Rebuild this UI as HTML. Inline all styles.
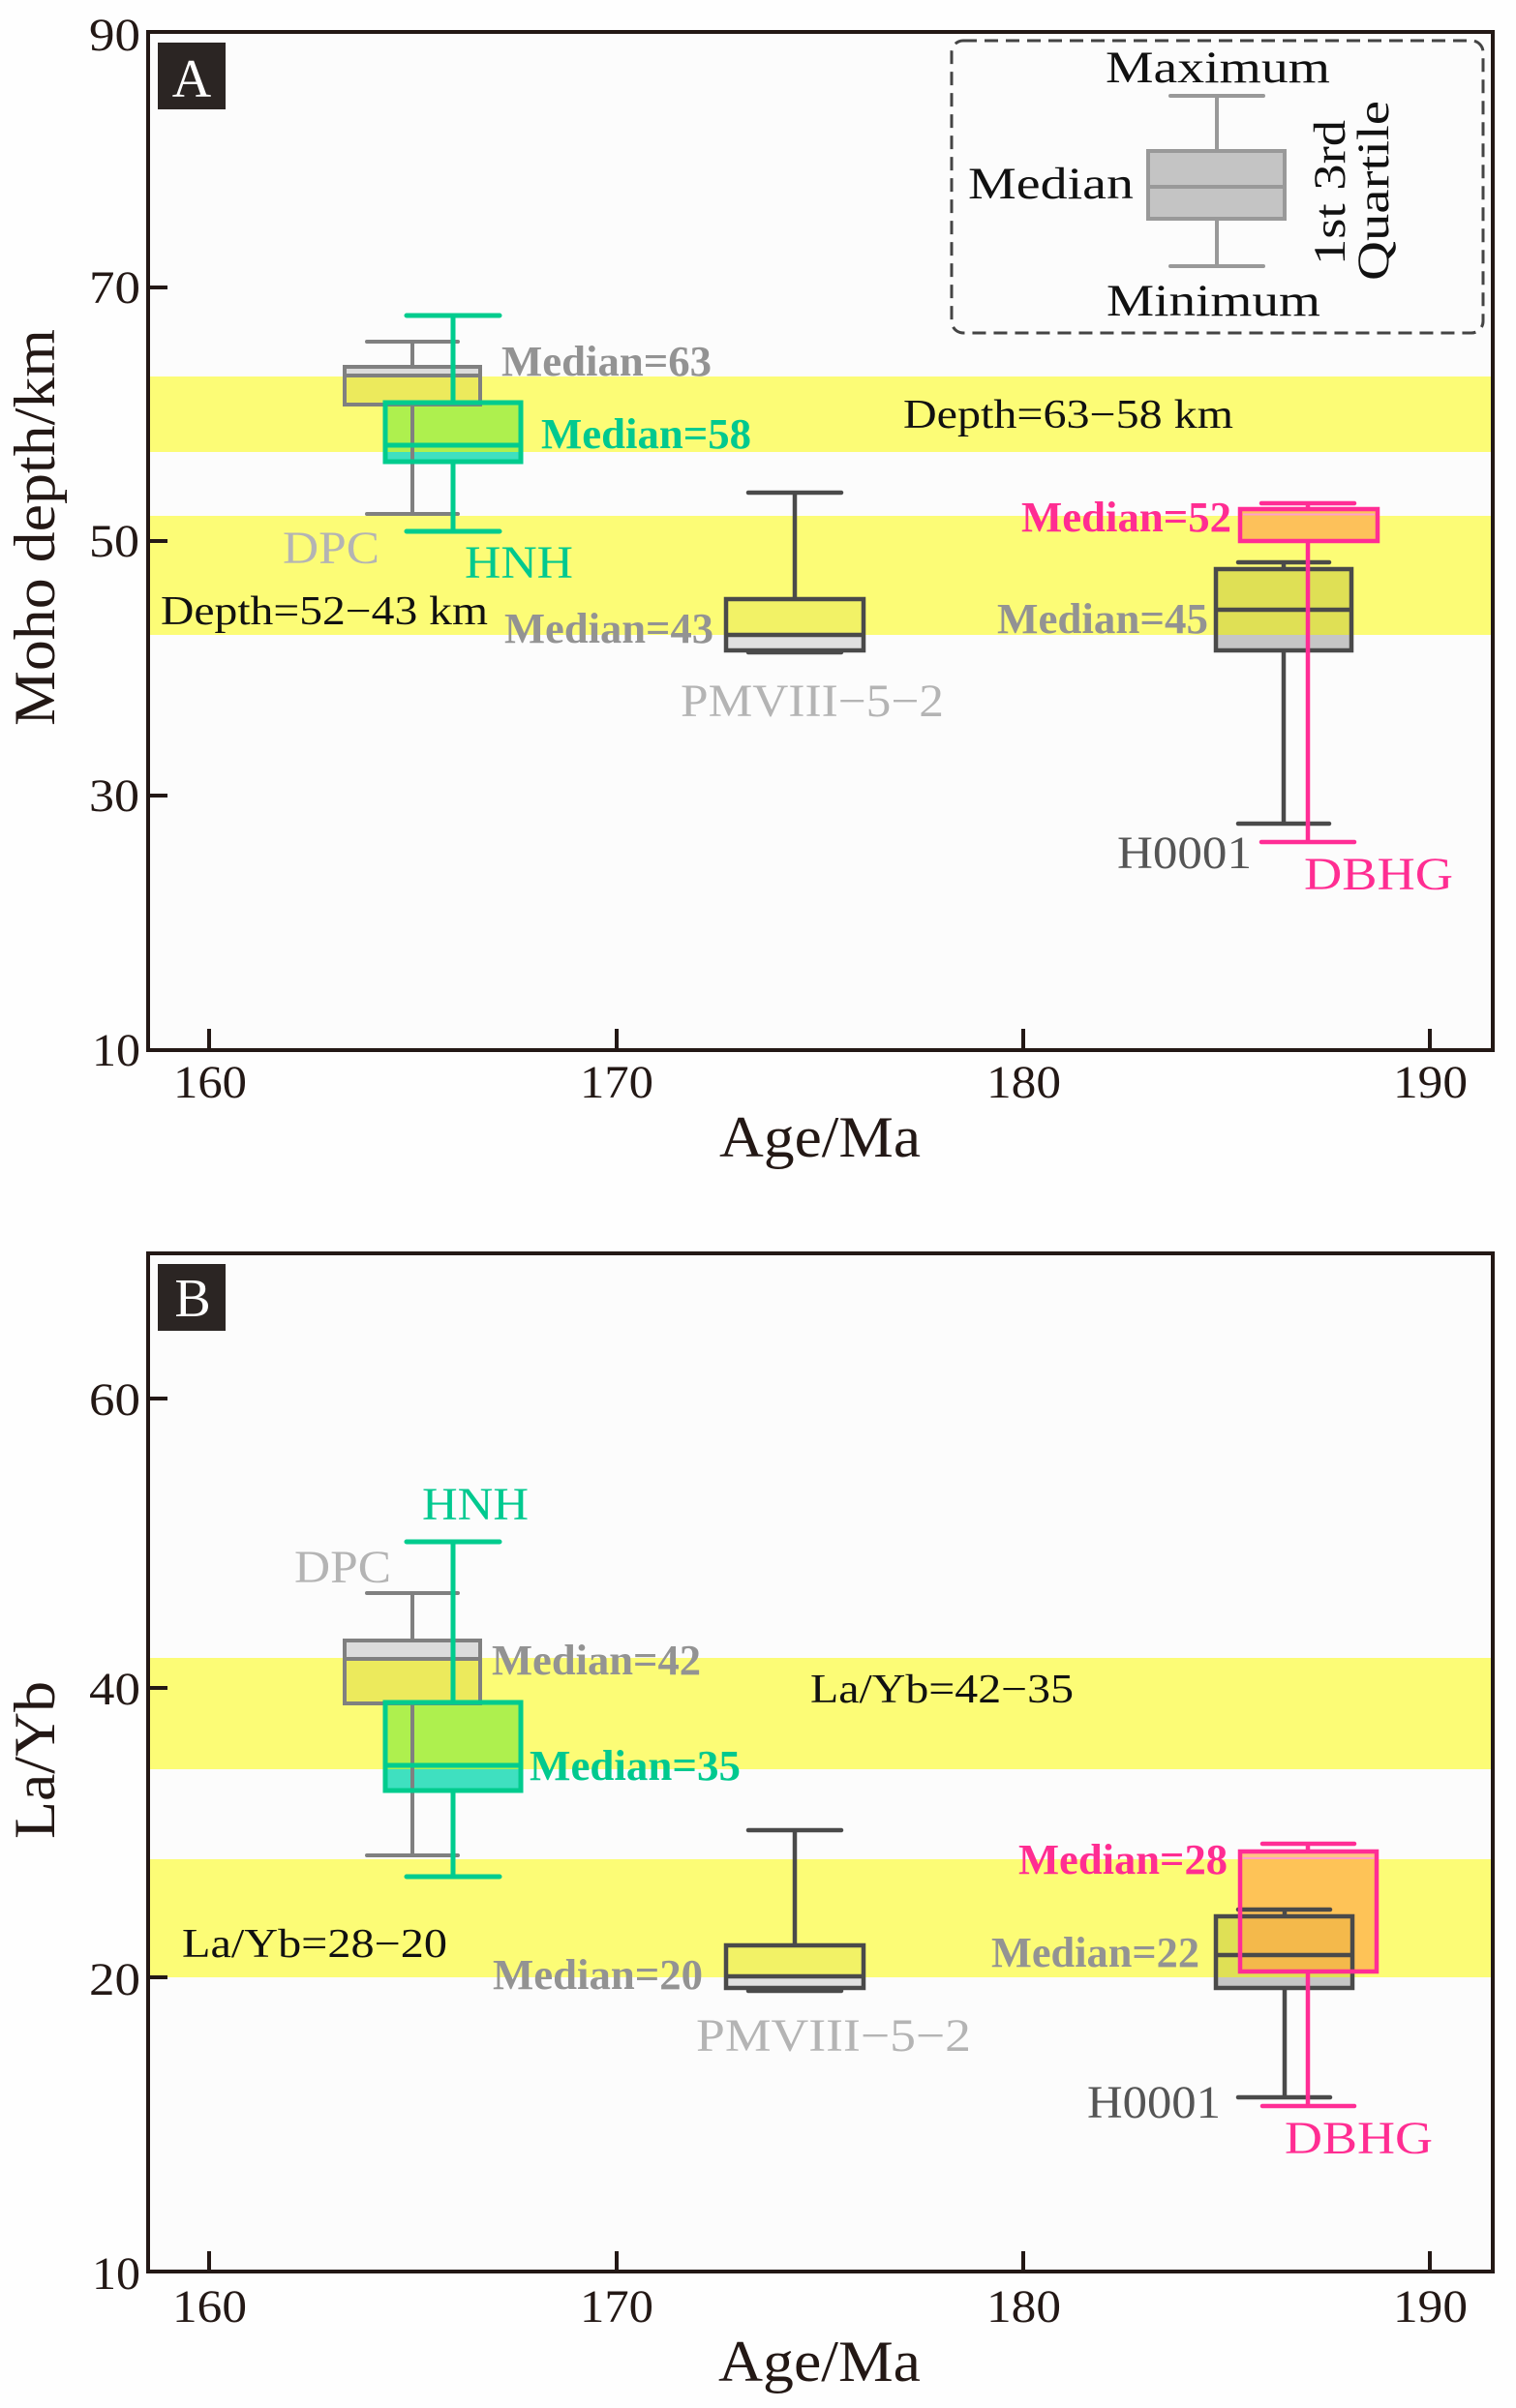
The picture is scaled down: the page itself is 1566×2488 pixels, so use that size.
<!DOCTYPE html>
<html><head><meta charset="utf-8">
<style>
html,body{margin:0;padding:0;background:#fff}
svg{display:block}
text{font-family:"Liberation Serif","Times New Roman",serif}
.tk{font-size:48px;fill:#231815}
.ax{font-size:60px;fill:#231815}
.bd{font-size:44px;font-weight:bold}
.lb{font-size:48px}
.bt{font-size:42px;fill:#111}
.lg{font-size:47px;fill:#111}
</style></head>
<body>
<svg width="1566" height="2488" viewBox="0 0 1566 2488" xmlns="http://www.w3.org/2000/svg">
<rect width="1566" height="2488" fill="#fefefe"/>

<!-- ================= CHART A ================= -->
<rect x="153" y="33" width="1389" height="1052" fill="#fcfcfc"/>
<!-- bands -->
<rect x="155" y="389" width="1385" height="78" fill="#fcfc76"/>
<rect x="155" y="533" width="1385" height="123" fill="#fcfc76"/>

<!-- fills -->
<rect x="356" y="379" width="140" height="9" fill="#dcdcdc"/>
<rect x="356" y="388" width="140" height="30" fill="#ecea5c"/>
<rect x="398" y="416" width="140" height="51" fill="#aef04e"/>
<rect x="398" y="467" width="140" height="10" fill="#3fe0c0"/>
<rect x="750" y="619" width="142" height="37" fill="#f2f266"/>
<rect x="750" y="656" width="142" height="16" fill="#e0e0e0"/>
<rect x="1256" y="588" width="140" height="68" fill="#dfe055"/>
<rect x="1256" y="656" width="140" height="16" fill="#c6c6c6"/>
<rect x="1281" y="526" width="142" height="33" fill="#fdc15a"/>

<!-- DPC A -->
<g stroke="#808080" stroke-width="4" fill="none">
<path d="M426 353V379M426 418V531" />
<path d="M379 353H473M379 531H473" stroke-linecap="round"/>
<rect x="356" y="379" width="140" height="39"/>
<path d="M356 388H496"/>
</g>
<!-- HNH A -->
<g stroke="#00cc8e" stroke-width="5" fill="none">
<path d="M468 326V416M468 477V549"/>
<path d="M420 326H516M420 549H516" stroke-linecap="round"/>
<rect x="398" y="416" width="140" height="61"/>
<path d="M398 460H538"/>
</g>
<!-- PMVIII A -->
<g stroke="#4a4a4a" stroke-width="4.5" fill="none">
<path d="M821 509V619"/>
<path d="M773 509H869M773 674H869" stroke-linecap="round"/>
<rect x="750" y="619" width="142" height="53"/>
<path d="M750 656H892"/>
</g>
<!-- H0001 A -->
<g stroke="#4a4a4a" stroke-width="4.5" fill="none">
<path d="M1326 581V588M1326 672V851"/>
<path d="M1279 581H1373M1279 851H1373" stroke-linecap="round"/>
<rect x="1256" y="588" width="140" height="84"/>
<path d="M1256 630H1396"/>
</g>
<!-- DBHG A -->
<g stroke="#ff2d95" stroke-width="4.5" fill="none">
<path d="M1351 520V526M1351 559V870"/>
<path d="M1303 520H1399M1303 870H1399" stroke-linecap="round"/>
<rect x="1281" y="526" width="142" height="33"/>
<path d="M1284 531.5H1420" stroke="#ff9fcc" stroke-width="2"/>
</g>

<!-- frame A -->
<rect x="153" y="33" width="1389" height="1052" fill="none" stroke="#231815" stroke-width="4"/>
<g stroke="#231815" stroke-width="4">
<path d="M153 297H173M153 559H173M153 822H173"/>
<path d="M216 1085V1063M637 1085V1063M1057 1085V1063M1477 1085V1063"/>
</g>
<text class="tk" x="92" y="52" textLength="53" lengthAdjust="spacingAndGlyphs">90</text>
<text class="tk" x="92" y="313" textLength="53" lengthAdjust="spacingAndGlyphs">70</text>
<text class="tk" x="92" y="575" textLength="52" lengthAdjust="spacingAndGlyphs">50</text>
<text class="tk" x="92" y="838" textLength="52" lengthAdjust="spacingAndGlyphs">30</text>
<text class="tk" x="95" y="1101" textLength="50" lengthAdjust="spacingAndGlyphs">10</text>
<text class="tk" x="179" y="1134" textLength="76" lengthAdjust="spacingAndGlyphs">160</text>
<text class="tk" x="599" y="1134" textLength="76" lengthAdjust="spacingAndGlyphs">170</text>
<text class="tk" x="1019" y="1134" textLength="77" lengthAdjust="spacingAndGlyphs">180</text>
<text class="tk" x="1439" y="1134" textLength="77" lengthAdjust="spacingAndGlyphs">190</text>
<text class="ax" x="743" y="1195" textLength="208" lengthAdjust="spacingAndGlyphs">Age/Ma</text>
<text class="ax" transform="translate(56,545) rotate(-90)" x="-205" y="0" textLength="410" lengthAdjust="spacingAndGlyphs">Moho depth/km</text>

<rect x="163" y="44" width="70" height="69" fill="#2b2523"/>
<text x="198" y="100" text-anchor="middle" font-size="56" fill="#fff">A</text>

<!-- legend -->
<rect x="983" y="42" width="549" height="302" rx="12" fill="none" stroke="#444" stroke-width="3" stroke-dasharray="14 8"/>
<g stroke="#999" stroke-width="4" fill="none">
<path d="M1257 99V156M1257 226V275"/>
<path d="M1209 99H1305M1209 275H1305" stroke-linecap="round"/>
<rect x="1186" y="156" width="141" height="70" fill="#c4c4c4"/>
<path d="M1186 193H1327"/>
</g>
<text class="lg" x="1142" y="85" textLength="232" lengthAdjust="spacingAndGlyphs">Maximum</text>
<text class="lg" x="1000" y="205" textLength="171" lengthAdjust="spacingAndGlyphs">Median</text>
<text class="lg" x="1143" y="326" textLength="221" lengthAdjust="spacingAndGlyphs">Minimum</text>
<text class="lg" transform="translate(1389,274) rotate(-90)" x="0" y="0" textLength="150" lengthAdjust="spacingAndGlyphs">1st 3rd</text>
<text class="lg" transform="translate(1434,290) rotate(-90)" x="0" y="0" textLength="186" lengthAdjust="spacingAndGlyphs">Quartile</text>

<!-- band texts A -->
<text class="bt" x="933" y="442" textLength="341" lengthAdjust="spacingAndGlyphs">Depth=63−58 km</text>
<text class="bt" x="166" y="645" textLength="338" lengthAdjust="spacingAndGlyphs">Depth=52−43 km</text>

<!-- labels A -->
<text class="bd" x="518" y="388" fill="#939393" textLength="217" lengthAdjust="spacingAndGlyphs">Median=63</text>
<text class="bd" x="559" y="463" fill="#00c98f" textLength="217" lengthAdjust="spacingAndGlyphs">Median=58</text>
<text class="lb" x="292" y="582" fill="#b4b4b4" textLength="100" lengthAdjust="spacingAndGlyphs">DPC</text>
<text class="lb" x="480" y="597" fill="#00c98f" textLength="112" lengthAdjust="spacingAndGlyphs">HNH</text>
<text class="bd" x="521" y="664" fill="#939393" textLength="216" lengthAdjust="spacingAndGlyphs">Median=43</text>
<text class="lb" x="703" y="740" fill="#b4b4b4" textLength="272" lengthAdjust="spacingAndGlyphs">PMVIII−5−2</text>
<text class="bd" x="1055" y="549" fill="#ff2d92" textLength="217" lengthAdjust="spacingAndGlyphs">Median=52</text>
<text class="bd" x="1030" y="654" fill="#939393" textLength="218" lengthAdjust="spacingAndGlyphs">Median=45</text>
<text class="lb" x="1154" y="897" fill="#555" textLength="139" lengthAdjust="spacingAndGlyphs">H0001</text>
<text class="lb" x="1347" y="919" fill="#ff2d92" textLength="154" lengthAdjust="spacingAndGlyphs">DBHG</text>

<!-- ================= CHART B ================= -->
<rect x="153" y="1295" width="1389" height="1052" fill="#fcfcfc"/>
<rect x="155" y="1713" width="1385" height="115" fill="#fcfc76"/>
<rect x="155" y="1921" width="1385" height="122" fill="#fcfc76"/>

<!-- fills -->
<rect x="356" y="1695" width="140" height="18" fill="#dcdcdc"/>
<rect x="356" y="1713" width="140" height="47" fill="#ecea5c"/>
<rect x="398" y="1759" width="140" height="69" fill="#aef04e"/>
<rect x="398" y="1828" width="140" height="22" fill="#3fe0c0"/>
<rect x="750" y="2010" width="142" height="33" fill="#f2f266"/>
<rect x="750" y="2043" width="142" height="11" fill="#e0e0e0"/>
<rect x="1256" y="1980" width="141" height="63" fill="#dfe055"/>
<rect x="1256" y="2043" width="141" height="11" fill="#c6c6c6"/>
<rect x="1281" y="1913" width="141" height="124" fill="rgb(255,165,70)" fill-opacity="0.65"/>

<!-- DPC B -->
<g stroke="#808080" stroke-width="4" fill="none">
<path d="M426 1646V1695M426 1760V1917"/>
<path d="M379 1646H473M379 1917H473" stroke-linecap="round"/>
<rect x="356" y="1695" width="140" height="65"/>
<path d="M356 1714H496"/>
</g>
<!-- HNH B -->
<g stroke="#00cc8e" stroke-width="5" fill="none">
<path d="M468 1593V1759M468 1850V1939"/>
<path d="M420 1593H516M420 1939H516" stroke-linecap="round"/>
<rect x="398" y="1759" width="140" height="91"/>
<path d="M398 1824H538"/>
</g>
<!-- PMVIII B -->
<g stroke="#4a4a4a" stroke-width="4.5" fill="none">
<path d="M821 1891V2010"/>
<path d="M773 1891H869M773 2057H869" stroke-linecap="round"/>
<rect x="750" y="2010" width="142" height="44"/>
<path d="M750 2042H892"/>
</g>
<!-- H0001 B -->
<g stroke="#4a4a4a" stroke-width="4.5" fill="none">
<path d="M1327 1973V1980M1327 2054V2167"/>
<path d="M1279 1973H1374M1279 2167H1374" stroke-linecap="round"/>
<rect x="1256" y="1980" width="141" height="74"/>
<path d="M1256 2020H1397"/>
</g>
<!-- DBHG B -->
<g stroke="#ff2d95" stroke-width="4.5" fill="none">
<path d="M1351 1905V1913M1351 2037V2176"/>
<path d="M1304 1905H1399M1304 2176H1399" stroke-linecap="round"/>
<rect x="1281" y="1913" width="141" height="124"/>
<path d="M1284 1920H1419" stroke="#ff9fcc" stroke-width="2"/>
</g>

<!-- frame B -->
<rect x="153" y="1295" width="1389" height="1052" fill="none" stroke="#231815" stroke-width="4"/>
<g stroke="#231815" stroke-width="4">
<path d="M153 1445H173M153 1744H173M153 2043H173"/>
<path d="M216 2347V2326M637 2347V2326M1057 2347V2326M1477 2347V2326"/>
</g>
<text class="tk" x="92" y="1462" textLength="53" lengthAdjust="spacingAndGlyphs">60</text>
<text class="tk" x="92" y="1761" textLength="53" lengthAdjust="spacingAndGlyphs">40</text>
<text class="tk" x="92" y="2061" textLength="53" lengthAdjust="spacingAndGlyphs">20</text>
<text class="tk" x="95" y="2365" textLength="50" lengthAdjust="spacingAndGlyphs">10</text>
<text class="tk" x="178" y="2399" textLength="77" lengthAdjust="spacingAndGlyphs">160</text>
<text class="tk" x="599" y="2399" textLength="76" lengthAdjust="spacingAndGlyphs">170</text>
<text class="tk" x="1019" y="2399" textLength="77" lengthAdjust="spacingAndGlyphs">180</text>
<text class="tk" x="1439" y="2399" textLength="77" lengthAdjust="spacingAndGlyphs">190</text>
<text class="ax" x="742" y="2460" textLength="209" lengthAdjust="spacingAndGlyphs">Age/Ma</text>
<text class="ax" transform="translate(56,1818) rotate(-90)" x="-82" y="0" textLength="163" lengthAdjust="spacingAndGlyphs">La/Yb</text>

<rect x="163" y="1306" width="70" height="69" fill="#2b2523"/>
<text x="199" y="1360" text-anchor="middle" font-size="56" fill="#fff">B</text>

<!-- band texts B -->
<text class="bt" x="837" y="1759" font-size="44" textLength="272" lengthAdjust="spacingAndGlyphs">La/Yb=42−35</text>
<text class="bt" x="188" y="2022" font-size="44" textLength="274" lengthAdjust="spacingAndGlyphs">La/Yb=28−20</text>

<!-- labels B -->
<text class="lb" x="436" y="1570" fill="#00c98f" textLength="110" lengthAdjust="spacingAndGlyphs">HNH</text>
<text class="lb" x="304" y="1635" fill="#b4b4b4" textLength="100" lengthAdjust="spacingAndGlyphs">DPC</text>
<text class="bd" x="508" y="1730" fill="#939393" textLength="216" lengthAdjust="spacingAndGlyphs">Median=42</text>
<text class="bd" x="547" y="1839" fill="#00c98f" textLength="218" lengthAdjust="spacingAndGlyphs">Median=35</text>
<text class="bd" x="509" y="2055" fill="#939393" textLength="217" lengthAdjust="spacingAndGlyphs">Median=20</text>
<text class="lb" x="719" y="2119" fill="#b4b4b4" textLength="284" lengthAdjust="spacingAndGlyphs">PMVIII−5−2</text>
<text class="bd" x="1052" y="1936" fill="#ff2d92" textLength="216" lengthAdjust="spacingAndGlyphs">Median=28</text>
<text class="bd" x="1024" y="2032" fill="#939393" textLength="215" lengthAdjust="spacingAndGlyphs">Median=22</text>
<text class="lb" x="1123" y="2188" fill="#555" textLength="138" lengthAdjust="spacingAndGlyphs">H0001</text>
<text class="lb" x="1327" y="2225" fill="#ff2d92" textLength="153" lengthAdjust="spacingAndGlyphs">DBHG</text>
</svg>
</body></html>
